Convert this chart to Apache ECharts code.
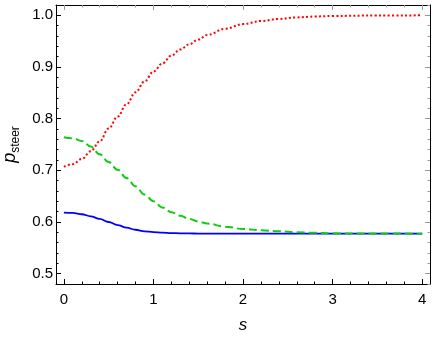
<!DOCTYPE html>
<html>
<head>
<meta charset="utf-8">
<script src="https://cdn.jsdelivr.net/npm/echarts@6/dist/echarts.min.js"></script>
<style>html,body{margin:0;padding:0;background:#fff;}#c{width:436px;height:339px;}</style>
</head>
<body>
<div id="c"></div>
<script>
// ---- data ----
var sValues = [0,0.1,0.2,0.3,0.4,0.5,0.6,0.7,0.8,0.9,1.0,1.1,1.2,1.3,1.4,1.5,1.6,1.8,2.0,2.2,2.4,2.6,2.8,3.0,3.5,4.0];
var blueSolid = [0.618,0.6175,0.615,0.611,0.606,0.600,0.594,0.589,0.585,0.582,0.5805,0.5793,0.5785,0.5781,0.5778,0.5776,0.5775,0.5774,0.5774,0.5774,0.5774,0.5774,0.5774,0.5774,0.5774,0.5774];
var greenDashed = [0.764,0.762,0.757,0.746,0.731,0.716,0.701,0.685,0.669,0.653,0.640,0.628,0.619,0.612,0.606,0.601,0.597,0.591,0.5865,0.584,0.582,0.580,0.579,0.578,0.5776,0.5774];
var redDotted = [0.707,0.712,0.722,0.737,0.756,0.781,0.804,0.828,0.851,0.872,0.891,0.907,0.922,0.934,0.944,0.953,0.962,0.974,0.983,0.989,0.993,0.996,0.9977,0.9988,0.9997,1.0];
var xTicks = [0,1,2,3,4];
var xMinorTicks = [0.2,0.4,0.6,0.8,1.2,1.4,1.6,1.8,2.2,2.4,2.6,2.8,3.2,3.4,3.6,3.8];
var yTicks = [0.5,0.6,0.7,0.8,0.9,1.0];
var yMinorTicks = [0.48,0.52,0.54,0.56,0.58,0.62,0.64,0.66,0.68,0.72,0.74,0.76,0.78,0.82,0.84,0.86,0.88,0.92,0.94,0.96,0.98,1.02];
var xName = 's';
var yName = 'p';
var ySub = 'steer';

function pairs(ys){ return sValues.map(function(s,i){ return [s, ys[i]]; }); }

var X_MIN = -0.088, X_MAX = 4.087, Y_MIN = 0.48, Y_MAX = 1.02;
var FONT = 'Liberation Sans, Arial, sans-serif';

function xAxis(pos, ticks, len, color, labels, line, name){
  var a = {
    type:'value', position:pos, min:X_MIN, max:X_MAX, gridIndex:0,
    splitLine:{show:false},
    axisLine:{show:line, onZero:false, lineStyle:{color:'#000', width:1}},
    axisTick:{show:true, inside:true, length:len, customValues:ticks, lineStyle:{color:color, width:1}},
    axisLabel:{show:labels, customValues:ticks, margin:8, color:'#000', fontSize:15, fontFamily:FONT}
  };
  if (name) {
    a.name = name; a.nameLocation='middle'; a.nameGap=33;
    a.nameTextStyle = {fontSize:17, fontStyle:'italic', fontFamily:FONT, color:'#000'};
  }
  return a;
}
function yAxis(pos, ticks, len, color, labels, line, withName){
  var a = {
    type:'value', position:pos, min:Y_MIN, max:Y_MAX, gridIndex:0,
    splitLine:{show:false},
    axisLine:{show:line, onZero:false, lineStyle:{color:'#000', width:1}},
    axisTick:{show:true, inside:true, length:len, customValues:ticks, lineStyle:{color:color, width:1}},
    axisLabel:{show:labels, customValues:ticks, margin:3, color:'#000', fontSize:15, fontFamily:FONT,
      formatter:function(v){ return v.toFixed(1); }}
  };
  if (withName) {
    a.name = '{p|' + yName + '}{s|' + ySub + '}';
    a.nameLocation='middle'; a.nameGap=32; a.nameRotate=90;
    a.nameTextStyle = {color:'#000', rich:{
      p:{fontSize:18, fontStyle:'italic', fontFamily:FONT, color:'#000', lineHeight:22, verticalAlign:'middle'},
      s:{fontSize:12, fontFamily:FONT, color:'#000', lineHeight:22, verticalAlign:'bottom', padding:[8,0,0,0]}
    }};
  }
  return a;
}

var chart = echarts.init(document.getElementById('c'), null, {renderer:'canvas'});
chart.setOption({
  animation:false,
  backgroundColor:'#fff',
  grid:{left:56, right:6, top:5, bottom:55, containLabel:false, outerBoundsMode:'none'},
  xAxis:[
    xAxis('bottom', xTicks, 5, '#000', true, true, xName),
    xAxis('bottom', xMinorTicks, 2.5, '#000', false, false),
    xAxis('top', xTicks, 5, '#999', false, true),
    xAxis('top', xMinorTicks, 2.5, '#999', false, false)
  ],
  yAxis:[
    yAxis('left', yTicks, 5, '#000', true, true, true),
    yAxis('left', yMinorTicks, 2.5, '#000', false, false),
    yAxis('right', yTicks, 5, '#999', false, true),
    yAxis('right', yMinorTicks, 2.5, '#999', false, false)
  ],
  series:[
    {type:'line', name:'solid', data:pairs(blueSolid), xAxisIndex:0, yAxisIndex:0, showSymbol:false,
     smooth:0.4, smoothMonotone:'x', lineStyle:{color:'#0000ff', width:1.8}},
    {type:'line', name:'dashed', data:pairs(greenDashed), xAxisIndex:0, yAxisIndex:0, showSymbol:false,
     smooth:0.4, smoothMonotone:'x', lineStyle:{color:'#10cc10', width:2, type:[8,4]}},
    {type:'line', name:'dotted', data:pairs(redDotted), xAxisIndex:0, yAxisIndex:0, showSymbol:false,
     smooth:0.4, smoothMonotone:'x', lineStyle:{color:'#ff0000', width:2, type:[2,2.3]}}
  ]
});
</script>
</body>
</html>
